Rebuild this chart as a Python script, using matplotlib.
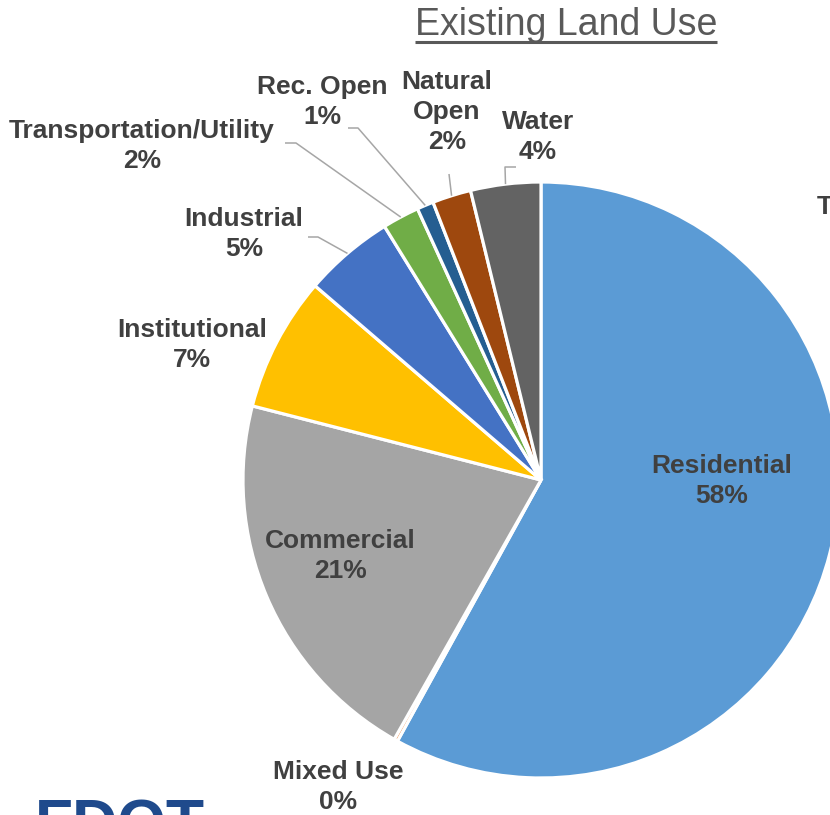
import matplotlib
matplotlib.use("Agg")
import matplotlib.pyplot as plt
import numpy as np

# land use shares (percent), clockwise from 12 o'clock
categories = ["Residential", "Mixed Use", "Commercial", "Institutional", "Industrial",
              "Transportation/Utility", "Rec. Open", "Natural\nOpen", "Water"]
shares = [58.0, 0.2, 20.8, 7.3, 4.9, 2.0, 0.9, 2.1, 3.8]
colors = ["#5B9BD5", "#ED7D31", "#A5A5A5", "#FFC000", "#4472C4",
          "#70AD47", "#255E91", "#9E480E", "#636363"]

W, H = 830, 815
plt.rcParams['font.family'] = ['Liberation Sans', 'DejaVu Sans']
TXT = "#404040"


def Y(y):
    """pixel row (from top) -> data y"""
    return H - y


fig = plt.figure(figsize=(W / 100, H / 100), dpi=100)
ax = fig.add_axes([0, 0, 1, 1])

cx, cy, r = 541, Y(480), 298
wedges, _ = ax.pie(shares, colors=colors, startangle=90, counterclock=False,
                   center=(cx, cy), radius=r,
                   wedgeprops=dict(edgecolor="white", linewidth=2.3))
ax.set_xlim(0, W)
ax.set_ylim(0, H)
ax.set_aspect("equal")
ax.axis("off")

# label centre (px), leader path (px points, from label side) or None
label_pos = {
    "Residential": ((722, 481), None),
    "Mixed Use": ((338, 787), None),
    "Commercial": ((340, 556), None),
    "Institutional": ((192, 345), None),
    "Industrial": ((244, 234), [(308, 237), (318, 237)]),
    "Transportation/Utility": ((142, 146), [(285, 143), (296, 143)]),
    "Rec. Open": ((322, 102), [(348, 128), (358, 128)]),
    "Natural\nOpen": ((447, 112), [(449, 174)]),
    "Water": ((538, 137), [(516, 167), (505, 167)]),
}

for w, name, v in zip(wedges, categories, shares):
    (tx, ty), path = label_pos[name]
    ax.text(tx, Y(ty), f"{name}\n{v:.0f}%", ha="center", va="center",
            fontsize=19, fontweight="bold", color=TXT, linespacing=1.3)
    if path:
        mid = np.deg2rad((w.theta1 + w.theta2) / 2)
        sx, sy = cx + r * np.cos(mid), cy + r * np.sin(mid)
        xs = [p[0] for p in path] + [sx]
        ys = [Y(p[1]) for p in path] + [sy]
        ax.plot(xs, ys, color="#A6A6A6", lw=1.1, solid_capstyle="butt")

# title with underline
title = ax.text(566, Y(25), "Existing Land Use", ha="center", va="center",
                fontsize=27, color="#595959")
fig.canvas.draw()
bb = title.get_window_extent().transformed(ax.transData.inverted())
ax.plot([bb.x0, bb.x1], [Y(42), Y(42)], color="#595959", lw=2.2,
        solid_capstyle="butt")

# clipped text at right edge and logo at bottom-left (cut off in the original too)
ax.text(817, Y(207), "T", ha="left", va="center", fontsize=19,
        fontweight="bold", color=TXT, clip_on=True)
ax.text(35, Y(797), "FDOT", ha="left", va="top", fontsize=45,
        fontweight="bold", color="#1F4A8C", clip_on=True)

fig.savefig("out.png", dpi=100)
